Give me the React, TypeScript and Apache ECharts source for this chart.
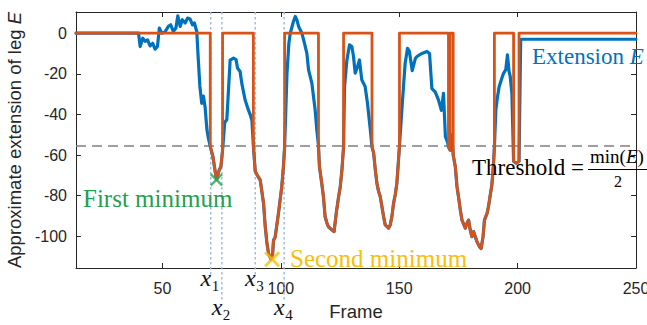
import React, { useEffect, useRef } from "react";
import * as echarts from "echarts";

// ---- data ----
const frames = [
  13.5, 39.9, 40.6, 41.7, 42.7, 43.7, 44.8, 45.9, 46.9, 47.9, 48.7, 49.7, 51.1, 52.5, 53.5, 54.6, 55.7, 56.5, 57.5, 58.4,
  59.6, 60.6, 61.7, 62.7, 63.5, 64.5, 65.1, 65.8, 66.6, 67.3, 68.0, 68.8, 69.4, 70.2, 71.3, 72.4, 72.9, 74.0, 74.7, 75.4,
  76.3, 77.2, 78.6, 80.0, 81.1, 81.7, 82.8, 83.5, 84.9, 86.3, 87.1, 87.8, 88.4, 89.2, 89.9, 90.6, 91.3, 92.7, 93.4, 94.1,
  94.8, 95.8, 96.5, 96.9, 97.6, 99.0, 100.4, 101.1, 101.6, 102.6, 103.4, 104.0, 104.7, 105.4, 106.1, 106.8, 107.5, 108.9, 110.0, 111.0,
  111.7, 113.1, 114.5, 115.2, 115.9, 116.3, 117.3, 118.0, 118.7, 119.5, 120.1, 121.6, 122.5, 123.4, 124.4, 125.1, 125.8, 126.5, 126.9, 127.9,
  129.0, 130.0, 130.7, 131.4, 132.4, 133.2, 134.2, 135.6, 136.6, 137.8, 138.5, 139.2, 139.9, 140.6, 141.3, 142.0, 142.7, 143.4, 144.1, 145.5,
  146.2, 146.9, 147.6, 148.3, 149.0, 149.7, 150.1, 151.1, 151.8, 152.5, 153.5, 154.3, 155.5, 156.8, 157.5, 159.6, 161.7, 162.8, 163.8, 165.2,
  166.6, 167.8, 168.7, 169.5, 170.4, 170.8, 171.5, 172.2, 172.8, 173.7, 174.4, 175.1, 175.8, 176.5, 177.2, 177.9, 178.6, 179.3, 180.0, 180.7,
  181.4, 182.8, 183.9, 184.6, 185.4, 186.0, 187.1, 187.7, 188.4, 189.1, 189.8, 190.2, 190.8, 191.5, 192.2, 192.9, 194.0, 195.0, 195.7, 196.4,
  196.9, 197.6, 198.3, 199.4, 200.6, 201.3, 250.0,
];
const extension = [
  0, 0, -6.6, -2.5, -4, -3.3, -6.3, -5, -7.9, -6.6, 2.5, 0, 0.6, 3.3, 4.1, 0.8, 2.5, 8.5, 3.3, 6.6,
  5, 7.4, 6.9, 4.1, 5, 0.8, -12, -26, -34.6, -31, -36.2, -47.6, -51.7, -55.8, -60.7, -69, -71.8, -67.3, -65.7, -57.6,
  -44, -42.5, -13.3, -12.3, -13, -17.2, -18.9, -24.6, -32.8, -37.8, -40.2, -43, -55.4, -68, -69.6, -71, -72.3, -83.7, -95, -103,
  -108.4, -111.2, -109.5, -102, -100.5, -88.7, -75.6, -65.7, -56, -20, -5, 0, 3, 6, 8.2, 6.5, 3.3, 0, -5, -10,
  -18, -24.6, -37.8, -47.6, -55.2, -65.7, -74, -80.6, -90.3, -93.6, -95.3, -96.9, -97.7, -88.7, -80.5, -75.6, -67.4, -55.9, -26.4, -13.3,
  -5.8, -6.6, -11.5, -19.7, -16.5, -13.2, -23, -26.3, -34.5, -47.6, -56, -59, -67.3, -74, -78, -80.5, -85.4, -90.3, -94.4, -96,
  -94.4, -90.3, -83.8, -79.7, -74, -62.5, -55.6, -37.9, -26.4, -14.9, -7.5, -9, -18.5, -12.5, -11.5, -10, -9, -10, -27.3, -28.9,
  -33, -38, -29.6, -51, -53.6, -56, -57.6, -50, -60, -65.8, -75.6, -81, -87, -92, -94, -96, -93.6, -92, -96.9, -100.2,
  -97.7, -102.5, -105.2, -106, -100.2, -92, -88.7, -85.4, -80, -75, -65, -56, -37.9, -31.4, -26.4, -23.8, -19.9, -18, -10.7, -19,
  -21.4, -30, -63, -64, -63, -3, -3,
];
// frames where the masked (orange) curve follows E
const dipStarts = [70.2, 88.4, 115.9, 138.5, 170.8, 172.8, 198.3];
const dipEnds = [75.4, 101.6, 126.5, 150.1, 171.5, 190.2, 200.6];
const threshold = -55.5;
const firstMinimum = [72.8, -72.2];
const secondMinimum = [96.3, -111.3];
const markFrames = [70.4, 75.1, 89.2, 101.4];
const markSubs = ["1", "2", "3", "4"];
const xTicks = [50, 100, 150, 200, 250];
const yTicks = [-100, -80, -60, -40, -20, 0];
const X_MIN = 13.5;
const X_MAX = 250;
const Y_MIN = -115.6;
const Y_MAX = 10.4;

const BLUE = "#0072BD";
const ORANGE = "#D95319";
const GREEN = "#22A050";
const GOLD = "#F9BE0C";
const AX = "#262626";
const SERIF = "'Liberation Serif', 'Times New Roman', serif";
const SANS = "'Liberation Sans', Arial, sans-serif";
const XPATH = "path://M0,13L13,0L50,37L87,0L100,13L63,50L100,87L87,100L50,63L13,100L0,87L37,50Z";

function buildMasked() {
  const out: number[][] = [];
  for (let i = 0; i < frames.length; i++) {
    const f = frames[i];
    const v = extension[i];
    const si = dipStarts.indexOf(f);
    const ei = dipEnds.indexOf(f);
    let inside = false;
    for (let k = 0; k < dipStarts.length; k++) {
      if (f >= dipStarts[k] && f <= dipEnds[k]) inside = true;
    }
    if (si >= 0) out.push([f, 0]);
    out.push([f, inside ? v : 0]);
    if (ei >= 0) out.push([f, 0]);
  }
  return out;
}

export default function App() {
  const ref = useRef<HTMLDivElement>(null);
  useEffect(() => {
    if (!ref.current) return;
    const chart = echarts.init(ref.current, null, { renderer: "svg" });
    const blueData = frames.map((f, i) => [f, extension[i]]);
    const axisCommon = (isX: boolean, main: boolean) => ({
      type: "value",
      min: isX ? X_MIN : Y_MIN,
      max: isX ? X_MAX : Y_MAX,
      axisLine: { show: true, onZero: false, lineStyle: { color: AX, width: 1 } },
      axisTick: {
        show: true,
        inside: true,
        length: 5,
        customValues: isX ? xTicks : yTicks,
        lineStyle: { color: AX, width: 1 },
      },
      axisLabel: main
        ? {
            show: true,
            customValues: isX ? xTicks : yTicks,
            margin: isX ? 12 : 9,
            fontSize: 16,
            fontFamily: SANS,
            color: AX,
          }
        : { show: false },
      splitLine: { show: false },
    });
    const option: any = {
      animation: false,
      backgroundColor: "#ffffff",
      grid: { left: 76, right: 11, top: 12, bottom: 57, containLabel: false, outerBoundsMode: "none" },
      xAxis: [
        {
          ...axisCommon(true, true),
          name: "Frame",
          nameLocation: "middle",
          nameGap: 34,
          nameTextStyle: { fontSize: 18.5, fontFamily: SANS, color: AX },
        },
        { ...axisCommon(true, false), position: "top" },
      ],
      yAxis: [
        {
          ...axisCommon(false, true),
          name: "Approximate extension of leg {i|E}",
          nameLocation: "middle",
          nameGap: 50,
          nameTextStyle: {
            fontSize: 18.5,
            fontFamily: SANS,
            color: AX,
            rich: { i: { fontSize: 18.5, fontFamily: SANS, fontStyle: "italic", color: AX } },
          },
        },
        { ...axisCommon(false, false), position: "right" },
      ],
      series: [
        {
          type: "line",
          z: 1,
          data: [
            [X_MIN, threshold],
            [X_MAX, threshold],
          ],
          showSymbol: false,
          symbol: "none",
          lineStyle: { color: "#7f7f7f", width: 1.5, type: [10, 6] },
          silent: true,
        },
        {
          type: "line",
          z: 2,
          data: blueData,
          showSymbol: false,
          symbol: "none",
          lineStyle: { color: BLUE, width: 3.2, join: "round", cap: "round" },
        },
        {
          type: "line",
          z: 3,
          data: buildMasked(),
          showSymbol: false,
          symbol: "none",
          lineStyle: { color: ORANGE, width: 2.8, join: "round", cap: "round" },
        },
        {
          type: "scatter",
          z: 4,
          data: [firstMinimum],
          symbol: XPATH,
          symbolSize: 13,
          itemStyle: { color: GREEN },
        },
        {
          type: "scatter",
          z: 4,
          data: [secondMinimum],
          symbol: XPATH,
          symbolSize: 16,
          itemStyle: { color: GOLD },
        },
      ],
    };
    chart.setOption(option);

    const top = chart.convertToPixel({ yAxisIndex: 0 }, Y_MAX) as number;
    const graphics: any[] = [];
    markFrames.forEach((f, i) => {
      const px = chart.convertToPixel({ xAxisIndex: 0 }, f) as number;
      const low = i % 2 === 1;
      graphics.push({
        type: "line",
        z: 1,
        shape: { x1: px, y1: top, x2: px, y2: low ? 300 : 275 },
        style: { stroke: "#9BB8DE", lineWidth: 1.4, lineDash: [2.5, 2.5] },
      });
      const base = low ? 315 : 286;
      graphics.push({
        type: "text",
        z: 10,
        x: px + 0.5,
        y: base - 8.4,
        style: {
          text: "x",
          fontSize: 24,
          fontFamily: SERIF,
          fontStyle: "italic",
          fill: "#111",
          align: "right",
          verticalAlign: "middle",
        },
      });
      graphics.push({
        type: "text",
        z: 10,
        x: px + 1,
        y: base + 5 - 5.3,
        style: {
          text: markSubs[i],
          fontSize: 15,
          fontFamily: SERIF,
          fill: "#111",
          align: "left",
          verticalAlign: "middle",
        },
      });
    });
    graphics.push(
      {
        type: "text",
        z: 10,
        x: 83,
        y: 198,
        style: { text: "First minimum", fontSize: 25, fontFamily: SERIF, fill: GREEN, verticalAlign: "middle" },
      },
      {
        type: "text",
        z: 10,
        x: 290,
        y: 258,
        style: { text: "Second minimum", fontSize: 25, fontFamily: SERIF, fill: GOLD, verticalAlign: "middle" },
      },
      {
        type: "text",
        z: 10,
        x: 532,
        y: 56.5,
        style: {
          text: "Extension {i|E}",
          fontSize: 23,
          fontFamily: SERIF,
          fill: BLUE,
          verticalAlign: "middle",
          rich: { i: { fontSize: 23, fontFamily: SERIF, fontStyle: "italic", fill: BLUE } },
        },
      },
      {
        type: "text",
        z: 10,
        x: 472,
        y: 167,
        style: { text: "Threshold =", fontSize: 23, fontFamily: SERIF, fill: "#000", verticalAlign: "middle" },
      },
      {
        type: "text",
        z: 10,
        x: 590,
        y: 156.5,
        style: {
          text: "min({i|E})",
          fontSize: 19,
          fontFamily: SERIF,
          fill: "#000",
          verticalAlign: "middle",
          rich: { i: { fontSize: 19, fontFamily: SERIF, fontStyle: "italic", fill: "#000" } },
        },
      },
      {
        type: "line",
        z: 10,
        shape: { x1: 588, y1: 169.5, x2: 650, y2: 169.5 },
        style: { stroke: "#000", lineWidth: 1.1 },
      },
      {
        type: "text",
        z: 10,
        x: 618,
        y: 181.5,
        style: { text: "2", fontSize: 16, fontFamily: SERIF, fill: "#000", align: "center", verticalAlign: "middle" },
      }
    );
    chart.setOption({ graphic: graphics });
    return () => chart.dispose();
  }, []);
  return (
    <div
      ref={ref}
      style={{ position: "fixed", left: 0, top: 0, width: 647, height: 325, background: "#fff" }}
    />
  );
}
